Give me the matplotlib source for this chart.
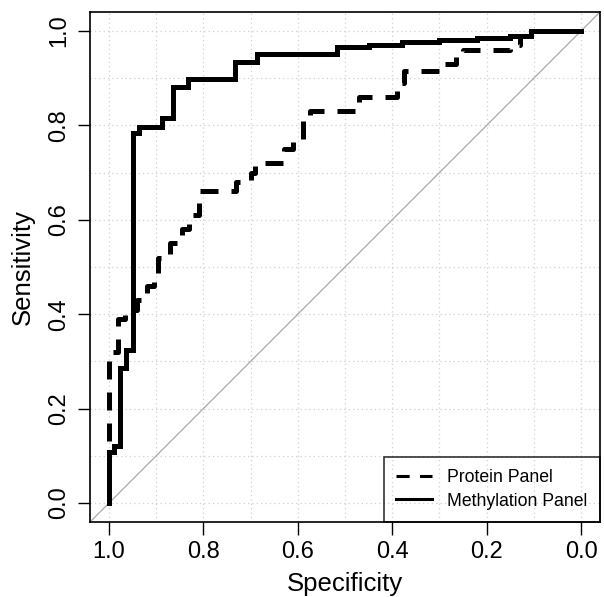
import matplotlib
matplotlib.use("Agg")
import matplotlib.pyplot as plt
from matplotlib.lines import Line2D

plt.rcParams['font.family'] = ['Liberation Sans', 'DejaVu Sans']

# ROC staircase corners (specificity, sensitivity)
protein_spec = [1.0, 1.0, 0.98, 0.98, 0.965, 0.965, 0.94, 0.94, 0.92, 0.92, 0.905, 0.905,
                0.895, 0.895, 0.87, 0.87, 0.845, 0.845, 0.83, 0.83, 0.81, 0.81, 0.73, 0.73,
                0.70, 0.70, 0.69, 0.69, 0.63, 0.63, 0.61, 0.61, 0.59, 0.59, 0.575, 0.575,
                0.47, 0.47, 0.39, 0.39, 0.375, 0.375, 0.29, 0.29, 0.265, 0.265, 0.25, 0.25,
                0.15, 0.15, 0.13, 0.13, 0.10, 0.10, 0.0]
protein_sens = [0.0, 0.32, 0.32, 0.39, 0.39, 0.41, 0.41, 0.43, 0.43, 0.46, 0.46, 0.48,
                0.48, 0.52, 0.52, 0.55, 0.55, 0.58, 0.58, 0.61, 0.61, 0.66, 0.66, 0.68,
                0.68, 0.70, 0.70, 0.72, 0.72, 0.75, 0.75, 0.77, 0.77, 0.81, 0.81, 0.83,
                0.83, 0.86, 0.86, 0.89, 0.89, 0.915, 0.915, 0.93, 0.93, 0.95, 0.95, 0.96,
                0.96, 0.97, 0.97, 0.99, 0.99, 1.0, 1.0]

methyl_spec = [1.0, 1.0, 0.99, 0.99, 0.977, 0.977, 0.964, 0.964, 0.949, 0.949, 0.937, 0.937,
               0.888, 0.888, 0.865, 0.865, 0.832, 0.832, 0.733, 0.733, 0.686, 0.686, 0.516,
               0.516, 0.45, 0.45, 0.38, 0.38, 0.30, 0.30, 0.22, 0.22, 0.15, 0.15, 0.107,
               0.107, 0.0]
methyl_sens = [0.0, 0.108, 0.108, 0.12, 0.12, 0.286, 0.286, 0.324, 0.324, 0.784, 0.784, 0.797,
               0.797, 0.816, 0.816, 0.881, 0.881, 0.898, 0.898, 0.934, 0.934, 0.951, 0.951,
               0.966, 0.966, 0.971, 0.971, 0.976, 0.976, 0.981, 0.981, 0.986, 0.986, 0.99,
               0.99, 1.0, 1.0]

ticks = [1.0, 0.8, 0.6, 0.4, 0.2, 0.0]
grid_vals = [i / 10 for i in range(11)]
legend_labels = ['Protein Panel', 'Methylation Panel']

fig = plt.figure(figsize=(6.04, 5.97), dpi=100)
ax = fig.add_axes([90 / 604, 75 / 597, 510 / 604, 510 / 597])

for g in grid_vals:
    ax.axvline(g, color='#d0d0d0', lw=0.9, ls=(0, (1, 2.5)), zorder=0)
    ax.axhline(g, color='#d0d0d0', lw=0.9, ls=(0, (1, 2.5)), zorder=0)

ax.axline((1, 0), (0, 1), color='#a8a8a8', lw=0.9, zorder=1)

ax.plot(protein_spec, protein_sens, color='black', lw=3.6, dashes=(3.6, 2.6),
        solid_capstyle='butt', dash_capstyle='butt', zorder=2)
ax.plot(methyl_spec, methyl_sens, color='black', lw=3.6, solid_joinstyle='miter', zorder=3)

ax.set_xlim(1.04, -0.04)
ax.set_ylim(-0.04, 1.04)
ax.set_xticks(ticks)
ax.set_yticks(ticks)
ax.set_xticklabels([f'{t:.1f}' for t in ticks], fontsize=17)
ax.set_yticklabels([f'{t:.1f}' for t in ticks], fontsize=17, rotation=90, va='center')
ax.tick_params(axis='x', length=9, width=1, pad=5)
ax.tick_params(axis='y', length=9, width=1, pad=5)
for s in ax.spines.values():
    s.set_linewidth(1.2)

ax.set_xlabel('Specificity', fontsize=18.5, labelpad=6)
ax.set_ylabel('Sensitivity', fontsize=18.5)
ax.yaxis.set_label_coords(-0.108, 0.5)

handles = [Line2D([], [], color='black', lw=2.2, dashes=(4.3, 3.4)),
           Line2D([], [], color='black', lw=2.2)]
leg = ax.legend(handles, legend_labels, loc='lower right', bbox_to_anchor=(1.0, 0.0),
                borderaxespad=0, fancybox=False, fontsize=12.7, handlelength=2.05,
                borderpad=0.7, labelspacing=0.35, handletextpad=0.85)
leg.get_frame().set_facecolor('none')
leg.get_frame().set_edgecolor('black')
leg.get_frame().set_linewidth(1.2)

fig.savefig('out.png', dpi=100)
